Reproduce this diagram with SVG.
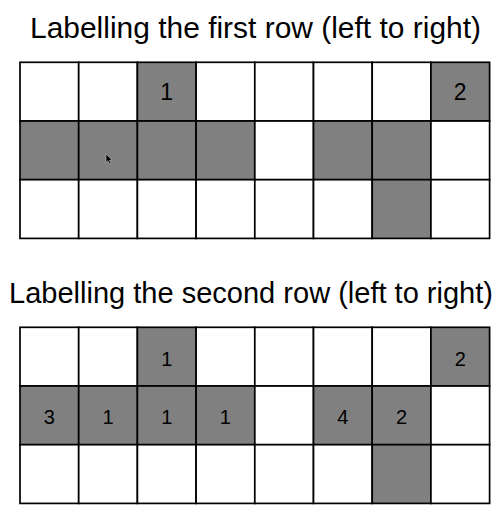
<svg xmlns="http://www.w3.org/2000/svg" width="504" height="524" viewBox="0 0 504 524">
<style>
.bg{fill:#ffffff}
.w{fill:#ffffff;stroke:#000;stroke-width:1.7}
.g{fill:#808080;stroke:#000;stroke-width:1.7}
.title{font-family:"Liberation Sans",Arial,sans-serif;font-size:29px;fill:#000}
.n1{font-family:"Liberation Sans",Arial,sans-serif;font-size:23px;fill:#000;text-anchor:middle}
.n2{font-family:"Liberation Sans",Arial,sans-serif;font-size:20px;fill:#000;text-anchor:middle}
</style>
<defs>
<rect id="cw" class="w" width="58.7" height="58.7"/>
<rect id="cg" class="g" width="58.7" height="58.7"/>
</defs>
<rect class="bg" width="504" height="524"/>
<text id="title1" class="title" x="30" y="37.5" textLength="451" lengthAdjust="spacingAndGlyphs">Labelling the first row (left to right)</text>
<g id="grid1">
<use href="#cw" x="20" y="62.3"/><use href="#cw" x="78.7" y="62.3"/><use href="#cg" x="137.4" y="62.3"/><use href="#cw" x="196.1" y="62.3"/><use href="#cw" x="254.8" y="62.3"/><use href="#cw" x="313.5" y="62.3"/><use href="#cw" x="372.2" y="62.3"/><use href="#cg" x="430.9" y="62.3"/>
<use href="#cg" x="20" y="121"/><use href="#cg" x="78.7" y="121"/><use href="#cg" x="137.4" y="121"/><use href="#cg" x="196.1" y="121"/><use href="#cw" x="254.8" y="121"/><use href="#cg" x="313.5" y="121"/><use href="#cg" x="372.2" y="121"/><use href="#cw" x="430.9" y="121"/>
<use href="#cw" x="20" y="179.7"/><use href="#cw" x="78.7" y="179.7"/><use href="#cw" x="137.4" y="179.7"/><use href="#cw" x="196.1" y="179.7"/><use href="#cw" x="254.8" y="179.7"/><use href="#cw" x="313.5" y="179.7"/><use href="#cg" x="372.2" y="179.7"/><use href="#cw" x="430.9" y="179.7"/>
<text class="n1" x="166.7" y="100">1</text>
<text class="n1" x="460.2" y="100">2</text>
<path id="cursor" d="M106,154 L106,162.5 L108,160.7 L109.6,164 L111,163.3 L109.5,160.2 L112,160 Z" fill="#000" stroke="#ccc" stroke-width="0.5"/>
</g>
<text id="title2" class="title" x="9" y="303" textLength="484" lengthAdjust="spacingAndGlyphs">Labelling the second row (left to right)</text>
<g id="grid2">
<use href="#cw" x="20" y="327.3"/><use href="#cw" x="78.7" y="327.3"/><use href="#cg" x="137.4" y="327.3"/><use href="#cw" x="196.1" y="327.3"/><use href="#cw" x="254.8" y="327.3"/><use href="#cw" x="313.5" y="327.3"/><use href="#cw" x="372.2" y="327.3"/><use href="#cg" x="430.9" y="327.3"/>
<use href="#cg" x="20" y="386"/><use href="#cg" x="78.7" y="386"/><use href="#cg" x="137.4" y="386"/><use href="#cg" x="196.1" y="386"/><use href="#cw" x="254.8" y="386"/><use href="#cg" x="313.5" y="386"/><use href="#cg" x="372.2" y="386"/><use href="#cw" x="430.9" y="386"/>
<use href="#cw" x="20" y="444.7"/><use href="#cw" x="78.7" y="444.7"/><use href="#cw" x="137.4" y="444.7"/><use href="#cw" x="196.1" y="444.7"/><use href="#cw" x="254.8" y="444.7"/><use href="#cw" x="313.5" y="444.7"/><use href="#cg" x="372.2" y="444.7"/><use href="#cw" x="430.9" y="444.7"/>
<text class="n2" x="166.7" y="365.7">1</text>
<text class="n2" x="460.2" y="365.7">2</text>
<text class="n2" x="49.3" y="424.4">3</text>
<text class="n2" x="108" y="424.4">1</text>
<text class="n2" x="166.7" y="424.4">1</text>
<text class="n2" x="225.4" y="424.4">1</text>
<text class="n2" x="342.8" y="424.4">4</text>
<text class="n2" x="401.5" y="424.4">2</text>
</g>
</svg>
